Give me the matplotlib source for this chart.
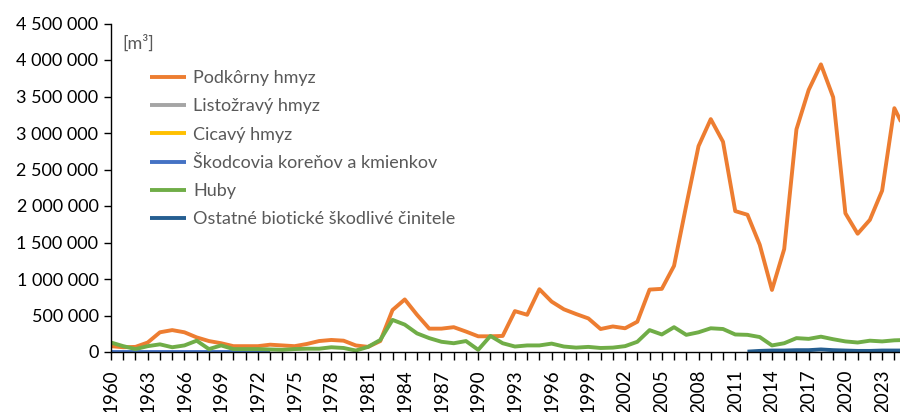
import matplotlib
matplotlib.use("Agg")
import matplotlib.pyplot as plt
from matplotlib.ticker import MultipleLocator, FixedLocator, FuncFormatter

plt.rcParams["font.family"] = ["Lato", "DejaVu Sans"]

years = list(range(1960, 2026))

# [m3]
podkorny = [80000, 65000, 70000, 130000, 270000, 300000, 270000, 200000, 150000, 120000,
            80000, 80000, 80000, 100000, 90000, 80000, 110000, 150000, 165000, 155000,
            90000, 70000, 150000, 575000, 720000, 510000, 320000, 320000, 340000, 280000,
            215000, 215000, 220000, 560000, 510000, 860000, 690000, 585000, 520000, 460000,
            315000, 350000, 325000, 415000, 855000, 865000, 1180000, 2010000, 2820000, 3190000,
            2880000, 1930000, 1880000, 1470000, 850000, 1410000, 3050000, 3590000, 3940000, 3490000,
            1900000, 1620000, 1810000, 2210000, 3340000, 3000000]
listozravy = [None] * len(years)
cicavy = [None] * len(years)
skodcovia = [3000] * 14 + [None] * (len(years) - 14)
huby = [130000, 80000, 40000, 80000, 105000, 65000, 90000, 155000, 40000, 90000,
        40000, 40000, 40000, 35000, 30000, 40000, 45000, 45000, 65000, 55000,
        20000, 70000, 165000, 440000, 375000, 255000, 190000, 140000, 120000, 150000,
        30000, 220000, 120000, 75000, 90000, 90000, 115000, 75000, 60000, 70000,
        55000, 60000, 80000, 140000, 300000, 240000, 340000, 235000, 270000, 325000,
        315000, 240000, 235000, 205000, 90000, 120000, 190000, 180000, 210000, 175000,
        145000, 130000, 155000, 145000, 160000, 165000]
ostatne = [None] * 52 + [5000, 15000, 20000, 20000, 25000, 25000, 35000, 25000,
                         20000, 15000, 15000, 20000, 20000, 20000]
label_years = years[::3]

series = [
    ("Podkôrny hmyz", podkorny, "#ED7D31"),
    ("Listožravý hmyz", listozravy, "#A5A5A5"),
    ("Cicavý hmyz", cicavy, "#FFC000"),
    ("Škodcovia koreňov a kmienkov", skodcovia, "#4472C4"),
    ("Huby", huby, "#70AD47"),
    ("Ostatné biotické škodlivé činitele", ostatne, "#255E91"),
]

fig = plt.figure(figsize=(9, 4.12), dpi=100)
ax = fig.add_axes([111 / 900, 60 / 412, 1 - 111 / 900, (352 - 23.5) / 412])

for name, vals, col in series:
    yv = [float("nan") if v is None else v for v in vals]
    ax.plot(years, yv, color=col, lw=2.8, label=name, solid_capstyle="butt")

ax.set_xlim(1960, 1960 + (900 - 111) / 12.24)
ax.set_ylim(0, 4500000)
ax.yaxis.set_major_locator(MultipleLocator(500000))
ax.yaxis.set_major_formatter(FuncFormatter(lambda v, p: f"{v:,.0f}".replace(",", " ")))
ax.xaxis.set_major_locator(FixedLocator(label_years))
ax.xaxis.set_minor_locator(MultipleLocator(1))
ax.xaxis.set_major_formatter(FuncFormatter(lambda v, p: f"{int(v)}"))
ax.tick_params(axis="x", which="both", direction="out", length=6, width=1)
ax.tick_params(axis="x", which="major", labelsize=13.5, rotation=90, pad=6.5)
ax.tick_params(axis="y", direction="out", length=5, width=1, labelsize=13, pad=4)
for s in ("top", "right"):
    ax.spines[s].set_visible(False)
for s in ("left", "bottom"):
    ax.spines[s].set_linewidth(1)

fig.text(122 / 900, 1 - 43 / 412, "[m³]", color="#595959", fontsize=13, va="center")

leg = ax.legend(loc="upper left", bbox_to_anchor=(150 / 900, 1 - 70 / 412),
                bbox_transform=fig.transFigure, frameon=False, fontsize=13,
                handlelength=2.0, handletextpad=0.4, labelspacing=0.68,
                borderpad=0, borderaxespad=0)
for t in leg.get_texts():
    t.set_color("#595959")

fig.savefig("out.png", dpi=100)
